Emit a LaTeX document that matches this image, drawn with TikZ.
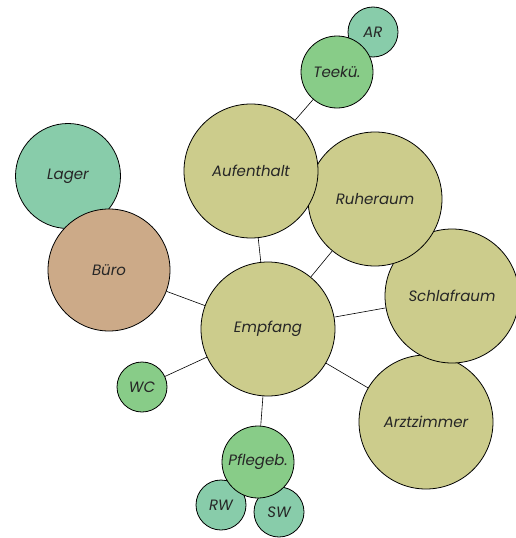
\documentclass[tikz,border=0pt]{standalone}
\usepackage{fontspec}
\setmainfont{Poppins}
\usepackage{tikz}
\usetikzlibrary{positioning}

\definecolor{olive}{HTML}{CCCC8C}
\definecolor{mint}{HTML}{88CCAA}
\definecolor{leaf}{HTML}{88CC88}
\definecolor{tan}{HTML}{CCAA88}

\tikzset{
        room/.style={
          circle, draw=black, line width=0.8pt, inner sep=0pt,
          text=black!85, font=\fontsize{15}{18}\selectfont\itshape
          },
        big room/.style={room, fill=olive, minimum size=134pt},
        mid room/.style={room, minimum size=72pt},
        small room/.style={room, minimum size=50pt},
        link/.style={draw=black, line width=0.6pt},
}

\begin{document}
\begin{tikzpicture}[x=1pt, y=-1pt]
      \useasboundingbox (0,0) rectangle (516,538);
      % top: tea kitchen and side room
      \node[small room, fill=mint] (ar) at (373,32) {AR};
      \node[mid room, fill=leaf] (teek) at (337,72) {Teekü.};

      % large rooms, back to front
      \node[big room] (arzt) at (426,422) {Arztzimmer};
      \node[big room] (schlaf) at (452,296) {Schlafraum};
      \node[big room] (ruhe) at (375,199) {Ruheraum};
      \node[big room] (aufent) at (251,171) {Aufenthalt};
      \node[big room] (empf) at (268,329) {Empfang};

      % left side
      \node[room, fill=mint, minimum size=105pt] (lager) at (68,176) {Lager};
      \node[room, fill=tan, minimum size=122pt] (buero) at (109,270) {Büro};
      \node[small room, fill=leaf] (wc) at (142,387) {WC};

      % bottom: care bath with its two small rooms
      \node[small room, fill=mint] (rw) at (221,505) {RW};
      \node[small room, fill=mint] (sw) at (279,512) {SW};
      \node[mid room, fill=leaf] (pflege) at (258,462) {Pflegeb.};

      % CONNECTIONS
      \path[link] (aufent) -- (teek);
      \foreach \r in {aufent, ruhe, schlaf, arzt, pflege, wc, buero}
        \path[link] (empf) -- (\r);
\end{tikzpicture}
\end{document}
